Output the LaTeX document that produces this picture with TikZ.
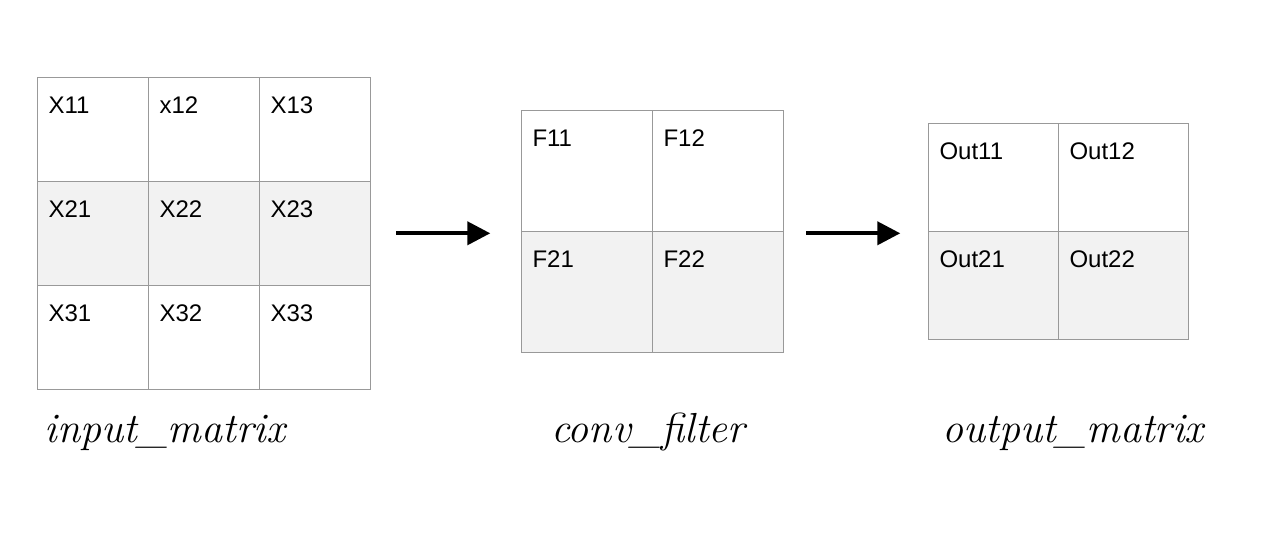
\documentclass[tikz,border=0pt]{standalone}
\usepackage{fontspec}
\newfontfamily\cellfont{Liberation Sans}
\usepackage{tikz}
\usetikzlibrary{arrows.meta,positioning}
\definecolor{gridgray}{HTML}{999999}
\definecolor{rowgray}{HTML}{F2F2F2}
\tikzset{
  cellbox/.style={
    rectangle, draw=gridgray, fill=#1, line width=1.2pt,
    outer sep=0pt, inner sep=0pt
  },
  cellbox/.default=white,
  incell/.style={cellbox=#1, minimum width=111pt, minimum height=104pt},
  incell/.default=white,
  fcell/.style={cellbox=#1, minimum width=131pt, minimum height=121pt},
  fcell/.default=white,
  ocell/.style={cellbox=#1, minimum width=130pt, minimum height=108pt},
  ocell/.default=white,
  celltext/.style={
    anchor=north west, inner xsep=11pt, inner ysep=19pt,
    font=\cellfont\fontsize{24}{28}\selectfont, text=black
  },
  flowarrow/.style={
    -{Triangle[length=23pt, width=23pt]}, line width=4pt, color=black
  },
  namelabel/.style={
    anchor=base, font=\fontsize{42}{48}\selectfont\itshape, text=black
  },
}
\begin{document}
\begin{tikzpicture}[x=1pt, y=-1pt]
  \useasboundingbox (0,0) rectangle (1272,540);

  % input matrix
  \node[incell, label={[celltext]north west:X11}] (in11) at (92.8,129.3) {};
  \node[incell, right=0pt of in11, label={[celltext]north west:x12}] (in12) {};
  \node[incell, right=0pt of in12, label={[celltext]north west:X13}] (in13) {};
  \node[incell=rowgray, below=0pt of in11, label={[celltext]north west:X21}] (in21) {};
  \node[incell=rowgray, right=0pt of in21, label={[celltext]north west:X22}] (in22) {};
  \node[incell=rowgray, right=0pt of in22, label={[celltext]north west:X23}] (in23) {};
  \node[incell, below=0pt of in21, label={[celltext]north west:X31}] (in31) {};
  \node[incell, right=0pt of in31, label={[celltext]north west:X32}] (in32) {};
  \node[incell, right=0pt of in32, label={[celltext]north west:X33}] (in33) {};

  % filter
  \node[fcell, label={[celltext]north west:F11}] (f11) at (586.8,170.8) {};
  \node[fcell, right=0pt of f11, label={[celltext]north west:F12}] (f12) {};
  \node[fcell=rowgray, below=0pt of f11, label={[celltext]north west:F21}] (f21) {};
  \node[fcell=rowgray, right=0pt of f21, label={[celltext]north west:F22}] (f22) {};

  % output matrix
  \node[ocell, label={[celltext]north west:Out11}] (o11) at (993.3,177.3) {};
  \node[ocell, right=0pt of o11, label={[celltext]north west:Out12}] (o12) {};
  \node[ocell=rowgray, below=0pt of o11, label={[celltext]north west:Out21}] (o21) {};
  \node[ocell=rowgray, right=0pt of o21, label={[celltext]north west:Out22}] (o22) {};

  % arrows
  \draw[flowarrow, shorten <=26pt, shorten >=31pt] (in23.east) -- (in23.east -| f11.west);
  \draw[flowarrow, shorten <=23pt, shorten >=28pt] (in23.east -| f12.east) -- (in23.east -| o11.west);

  % names
  \node[namelabel] (lblin) at (165,442) {input\_matrix};
  \node[namelabel] (lblf) at (648,442) {conv\_filter};
  \node[namelabel] (lblout) at (1073,442) {output\_matrix};
\end{tikzpicture}
\end{document}
